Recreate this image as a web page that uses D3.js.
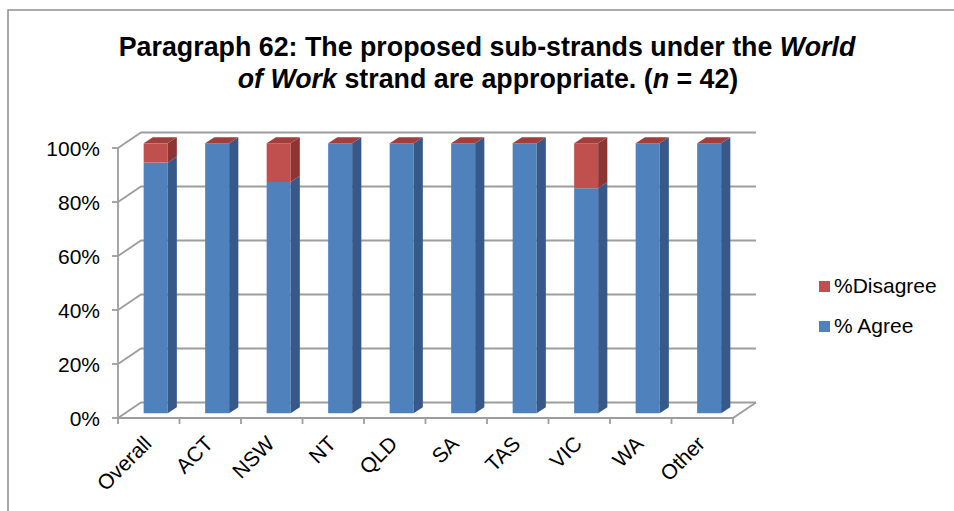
<!DOCTYPE html>
<html><head><meta charset="utf-8">
<script src="https://cdn.jsdelivr.net/npm/d3@7/dist/d3.min.js"></script>
<style>body{margin:0;background:#fff}svg{display:block}text{font-family:"Liberation Sans",Arial,sans-serif}</style>
</head><body>
<svg id="c" width="954" height="511"></svg>
<script>
const categories = ["Overall","ACT","NSW","NT","QLD","SA","TAS","VIC","WA","Other"];
const agree =    [92.86,100,85.71,100,100,100,100,83.33,100,100];
const disagree = [7.14,0,14.29,0,0,0,0,16.67,0,0];
const yTicks = [0,20,40,60,80,100];
const seriesNames = ["%Disagree","% Agree"];

const svg = d3.select("#c");
// chart border
svg.append("path").attr("d","M8,511 L8,10 L954,10").attr("fill","none").attr("stroke","#8f8f8f").attr("stroke-width",1.5);

// title
const t = svg.append("g").attr("font-weight","bold").attr("font-size",26.8).attr("text-anchor","middle");
const l1 = t.append("text").attr("x",487).attr("y",56);
l1.append("tspan").text("Paragraph 62: The proposed sub-strands under the ");
l1.append("tspan").attr("font-style","italic").text("World");
const l2 = t.append("text").attr("x",488).attr("y",88);
l2.append("tspan").attr("font-style","italic").text("of Work");
l2.append("tspan").text(" strand are appropriate. (");
l2.append("tspan").attr("font-style","italic").text("n");
l2.append("tspan").text(" = 42)");

// 3D geometry
const x0 = 118, x1 = 733;
const DX = 23, DY = -15.5;
const x = d3.scaleBand().domain(categories).range([x0,x1]).paddingInner(0.61).paddingOuter(0.305);
const y = d3.scaleLinear().domain([0,100]).range([418,148]);
const P = (px,v,z)=>[px + DX*z, y(v) + DY*z];
const pts = a => "M" + a.map(p=>p.join(",")).join("L") + "Z";

const grid = "#9d9d9d";
const g = svg.append("g");
// back wall gridlines + left wall diagonals
yTicks.forEach(v=>{
  const a = P(x0,v,0), b = P(x0,v,1), c = P(x1,v,1);
  g.append("path").attr("d",`M${a}L${b}L${c}`).attr("fill","none").attr("stroke",grid).attr("stroke-width",1.8);
});
// floor
{
  const a=P(x0,0,0), b=P(x1,0,0), c=P(x1,0,1);
  g.append("path").attr("d",`M${a}L${b}L${c}`).attr("fill","none").attr("stroke",grid).attr("stroke-width",1.8);
}
// front vertical axis
g.append("line").attr("x1",x0).attr("x2",x0).attr("y1",y(0)).attr("y2",y(100)).attr("stroke",grid).attr("stroke-width",1.8);
yTicks.forEach(v=>{
  g.append("line").attr("x1",x0-6).attr("x2",x0).attr("y1",y(v)).attr("y2",y(v)).attr("stroke",grid).attr("stroke-width",1.8);
  g.append("text").attr("x",100).attr("y",y(v)).attr("dy","0.36em").attr("text-anchor","end").attr("font-size",21).attr("fill","#000").text(v+"%");
});
// category ticks
const step = x.step();
d3.range(categories.length+1).forEach(i=>{
  const px = x0 + i*step;
  g.append("line").attr("x1",px).attr("x2",px).attr("y1",418).attr("y2",424).attr("stroke",grid).attr("stroke-width",1.8);
});
categories.forEach(c=>{
  const cx = x(c) + x.bandwidth()/2;
  g.append("text").attr("transform",`translate(${cx+4},${445}) rotate(-45)`).attr("text-anchor","end")
    .attr("font-size",21).attr("fill","#000").text(c);
});

// bars
const z0 = 0.3, z1 = 0.7;
const cols = {
  agree:{front:"#4f81bd", side:"#36598a", top:"#3f6ca6"},
  dis:{front:"#c0504d", side:"#8c3533", top:"#a23e3b"}
};
const bars = svg.append("g");
categories.forEach((c,i)=>{
  const L = x(c), R = x(c) + x.bandwidth();
  const segs = [{lo:0,hi:agree[i],col:cols.agree},{lo:agree[i],hi:agree[i]+disagree[i],col:cols.dis}];
  segs.forEach((s,k)=>{
    if (s.hi - s.lo <= 0) return;
    bars.append("path").attr("d",pts([P(L,s.lo,z0),P(R,s.lo,z0),P(R,s.hi,z0),P(L,s.hi,z0)])).attr("fill",s.col.front);
    bars.append("path").attr("d",pts([P(R,s.lo,z0),P(R,s.lo,z1),P(R,s.hi,z1),P(R,s.hi,z0)])).attr("fill",s.col.side);
  });
  const topV = agree[i]+disagree[i];
  bars.append("path").attr("d",pts([P(L,topV,z0),P(R,topV,z0),P(R,topV,z1),P(L,topV,z1)])).attr("fill",cols.dis.top);
});

// legend
const leg = svg.append("g").attr("font-size",21);
[[seriesNames[0],cols.dis.front,293],[seriesNames[1],cols.agree.front,333]].forEach(([n,col,by])=>{
  leg.append("rect").attr("x",819).attr("y",by-12).attr("width",11).attr("height",11).attr("fill",col);
  leg.append("text").attr("x",834).attr("y",by).attr("fill","#000").text(n);
});
</script>
</body></html>
